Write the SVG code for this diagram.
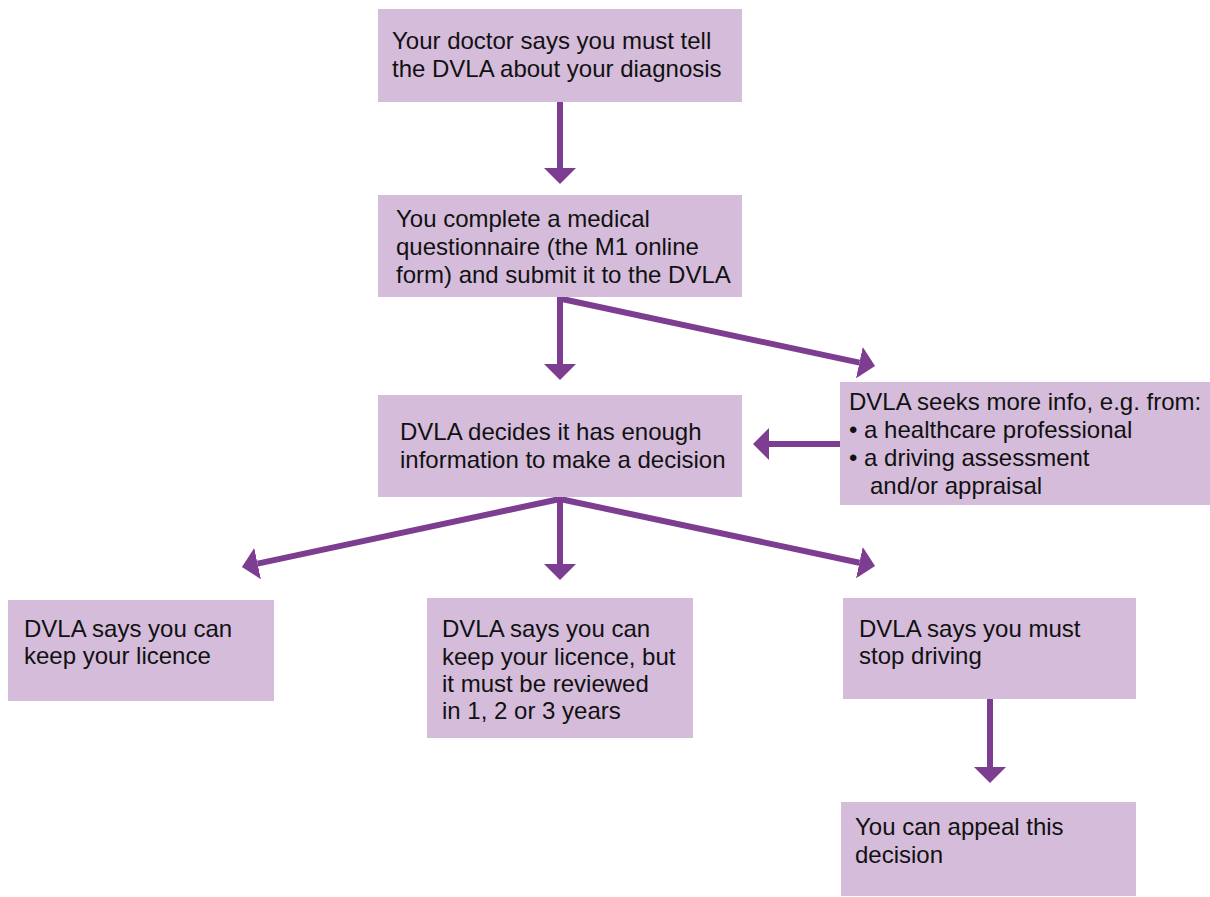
<svg xmlns="http://www.w3.org/2000/svg" width="1210" height="897" viewBox="0 0 1210 897">
<defs>
<style>
.box{fill:#d5bcdb;}
.t{font-family:"Liberation Sans",Arial,sans-serif;font-size:24px;fill:#111;}
.c{stroke:#7d3d91;stroke-width:6;fill:none;marker-end:url(#ah);}
</style>
<marker id="ah" viewBox="0 0 16 32" refX="0" refY="16" markerWidth="16" markerHeight="32" markerUnits="userSpaceOnUse" orient="auto">
<path d="M0,0 L16,16 L0,32 Z" fill="#7d3d91"/>
</marker>
</defs>
<rect width="1210" height="897" fill="#fff"/>
<g id="connectors">
<line class="c" x1="560" y1="102" x2="560" y2="168"/>
<line class="c" x1="560" y1="297" x2="560" y2="364"/>
<line class="c" x1="562" y1="299" x2="859.4" y2="362.6"/>
<line class="c" x1="840" y1="444" x2="769" y2="444"/>
<line class="c" x1="560" y1="497" x2="560" y2="564"/>
<line class="c" x1="560" y1="499" x2="257.6" y2="563.6"/>
<line class="c" x1="560" y1="499" x2="859.4" y2="562.7"/>
<line class="c" x1="990" y1="699" x2="990" y2="767"/>
</g>
<g id="n1">
<rect class="box" x="378" y="9" width="364" height="93"/>
<text class="t" x="392" y="49">Your doctor says you must tell</text>
<text class="t" x="392" y="77">the DVLA about your diagnosis</text>
</g>
<g id="n2">
<rect class="box" x="378" y="195" width="364" height="102"/>
<text class="t" x="396" y="227">You complete a medical</text>
<text class="t" x="396" y="255">questionnaire (the M1 online</text>
<text class="t" x="396" y="283">form) and submit it to the DVLA</text>
</g>
<g id="n3">
<rect class="box" x="378" y="395" width="364" height="102"/>
<text class="t" x="400" y="440">DVLA decides it has enough</text>
<text class="t" x="400" y="468">information to make a decision</text>
</g>
<g id="n4">
<rect class="box" x="840" y="382" width="370" height="123"/>
<text class="t" x="849" y="410">DVLA seeks more info, e.g. from:</text>
<text class="t" x="849" y="438">• a healthcare professional</text>
<text class="t" x="849" y="466">• a driving assessment</text>
<text class="t" x="870" y="494">and/or appraisal</text>
</g>
<g id="n5">
<rect class="box" x="8" y="600" width="266" height="101"/>
<text class="t" x="24" y="637">DVLA says you can</text>
<text class="t" x="24" y="664">keep your licence</text>
</g>
<g id="n6">
<rect class="box" x="427" y="598" width="266" height="140"/>
<text class="t" x="442" y="637">DVLA says you can</text>
<text class="t" x="442" y="665">keep your licence, but</text>
<text class="t" x="442" y="692">it must be reviewed</text>
<text class="t" x="442" y="719">in 1, 2 or 3 years</text>
</g>
<g id="n7">
<rect class="box" x="843" y="598" width="293" height="101"/>
<text class="t" x="859" y="637">DVLA says you must</text>
<text class="t" x="859" y="664">stop driving</text>
</g>
<g id="n8">
<rect class="box" x="841" y="802" width="295" height="94"/>
<text class="t" x="855" y="835">You can appeal this</text>
<text class="t" x="855" y="863">decision</text>
</g>
</svg>
